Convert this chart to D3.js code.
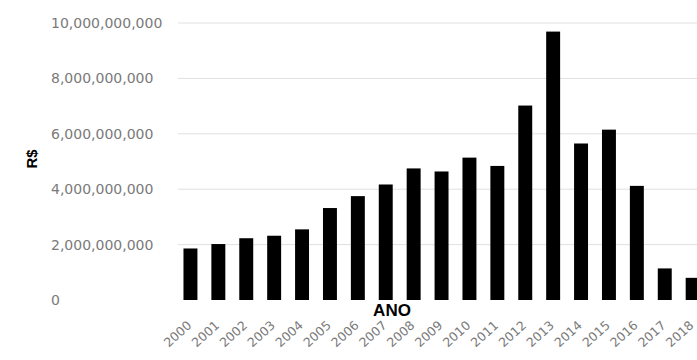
<!DOCTYPE html>
<html><head><meta charset="utf-8">
<script src="https://cdn.jsdelivr.net/npm/d3@7"></script>
<style>html,body{margin:0;padding:0;background:#fff;}svg{display:block;}</style>
</head><body>
<script>
const years = ["2000","2001","2002","2003","2004","2005","2006","2007","2008","2009","2010","2011","2012","2013","2014","2015","2016","2017","2018"];
const values = [1.86e9,2.02e9,2.23e9,2.32e9,2.55e9,3.32e9,3.75e9,4.17e9,4.75e9,4.64e9,5.14e9,4.84e9,7.02e9,9.69e9,5.65e9,6.15e9,4.12e9,1.14e9,0.80e9];
const yTicks = [0,2e9,4e9,6e9,8e9,10e9];
const xTitle = "ANO";
const yTitle = "R$";

const W = 697, H = 360;
const svg = d3.select("body").append("svg").attr("width", W).attr("height", H);

const x = d3.scaleBand().domain(years).range([176.5, 706.6]).paddingInner(0.5).paddingOuter(0.25);
const y = d3.scaleLinear().domain([0, 10e9]).range([300, 23]);
const fmt = d3.format(",");

// gridlines
svg.append("g").selectAll("line").data(yTicks.filter(d => d > 0)).join("line")
  .attr("x1", 178).attr("x2", W)
  .attr("y1", d => y(d)).attr("y2", d => y(d))
  .attr("stroke", "#e0e0e0").attr("stroke-width", 1);

// y labels
svg.append("g").selectAll("text").data(yTicks).join("text")
  .attr("x", 51).attr("y", d => y(d)).attr("dy", "0.35em")
  .attr("font-family", "DejaVu Sans").attr("font-size", 14)
  .attr("fill", "#7a7a7a").text(d => fmt(d));

// bars
svg.append("g").selectAll("rect").data(values).join("rect")
  .attr("x", (d, i) => x(years[i])).attr("width", x.bandwidth())
  .attr("y", d => y(d)).attr("height", d => y(0) - y(d))
  .attr("fill", "#000");

// x labels
svg.append("g").selectAll("text").data(years).join("text")
  .attr("transform", d => `translate(${x(d) + x.bandwidth()/2 - 4},${320}) rotate(-42)`)
  .attr("text-anchor", "end").attr("dy", "0.7em")
  .attr("font-family", "DejaVu Sans").attr("font-size", 12.5)
  .attr("fill", "#7a7a7a").text(d => d);

// axis titles
svg.append("text").attr("x", 392).attr("y", 316).attr("text-anchor", "middle")
  .attr("font-family", "Liberation Sans").attr("font-weight", "bold").attr("font-size", 17)
  .attr("fill", "#000").text(xTitle);
svg.append("text").attr("transform", "translate(37,159) rotate(-90)").attr("text-anchor", "middle")
  .attr("font-family", "Liberation Sans").attr("font-weight", "bold").attr("font-size", 15)
  .attr("fill", "#000").text(yTitle);
</script>
</body></html>
